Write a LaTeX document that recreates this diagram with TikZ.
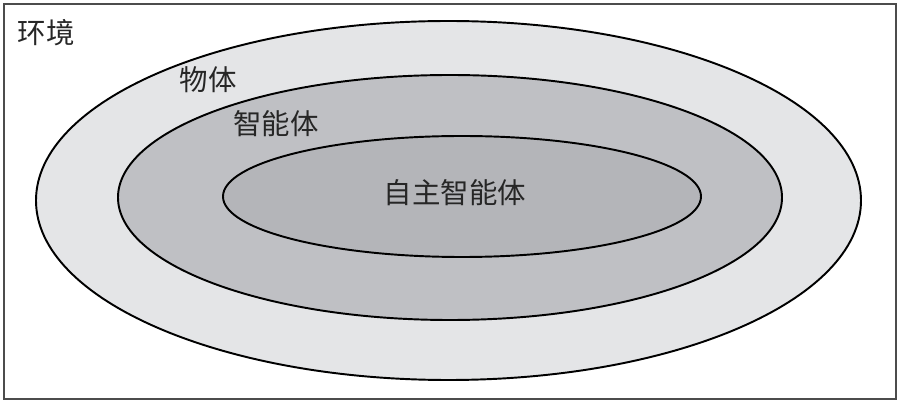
\documentclass[tikz,border=0pt]{standalone}
\usepackage{fontspec}
\newfontfamily\cjk{Noto Sans CJK SC}
\definecolor{outerfill}{RGB}{228,229,231}
\definecolor{midfill}{RGB}{191,192,196}
\definecolor{innerfill}{RGB}{180,181,185}
\begin{document}
\begin{tikzpicture}[x=0.02cm,y=-0.02cm]
        \useasboundingbox (0,0) rectangle (900,405);
        \draw[line width=1.3pt, black!70] (4,4) rectangle (896,399);
        \draw[line width=1.1pt, fill=outerfill] (448.5,200.5) ellipse (412.5 and 179.5);
        \draw[line width=1.1pt, fill=midfill] (450,197.5) ellipse (332 and 122.5);
        \draw[line width=1.1pt, fill=innerfill] (462,196.5) ellipse (239 and 60.5);
        \cjk\fontsize{16.2pt}{19pt}\selectfont
        \node[text=black!85] (env) at (46,33) {环境};
        \node[text=black!85] (obj) at (208,80) {物体};
        \node[text=black!85] (agent) at (276,124) {智能体};
        \node[text=black!85] (auto) at (455,193) {自主智能体};
    \end{tikzpicture}
\end{document}
